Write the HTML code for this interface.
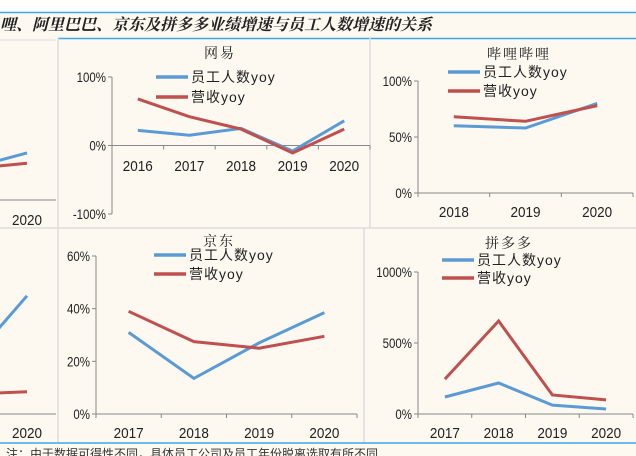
<!DOCTYPE html>
<html><head><meta charset="utf-8"><style>
html,body{margin:0;padding:0;background:#fdf9f1;}
svg{display:block;}
text{font-family:"Liberation Sans","Noto Sans CJK SC",sans-serif;}
</style></head><body>
<svg id="c" width="636" height="456" viewBox="0 0 636 456" xmlns="http://www.w3.org/2000/svg">
<rect x="0" y="0" width="636" height="12" fill="#ffffff"/>
<line x1="0" y1="12.5" x2="636" y2="12.5" stroke="#3aa8e8" stroke-width="1.5"/>
<text x="0" y="30" font-size="16" font-weight="bold" font-style="italic" fill="#222" style="font-family:'Noto Serif CJK SC','Noto Sans CJK SC',serif">哩、阿里巴巴、京东及拼多多业绩增速与员工人数增速的关系</text>
<line x1="58" y1="38.5" x2="636" y2="38.5" stroke="#3aa8e8" stroke-width="1.5"/>
<line x1="0" y1="40" x2="56" y2="40" stroke="#ddd" stroke-width="1"/>
<line x1="58" y1="38" x2="58" y2="443" stroke="#ddd" stroke-width="1.5"/>
<line x1="370" y1="38" x2="370" y2="228" stroke="#ddd" stroke-width="1.5"/>
<line x1="364" y1="228" x2="364" y2="443" stroke="#ddd" stroke-width="1.5"/>
<line x1="0" y1="228" x2="636" y2="228" stroke="#ddd" stroke-width="1.5"/>
<line x1="0" y1="443" x2="636" y2="443" stroke="#3aa8e8" stroke-width="1.5"/>
<text x="6" y="458" font-size="12" fill="#333">注：由于数据可得性不同，具体员工公司及员工年份脱离选取有所不同</text>
<g id="g"></g>
</svg>
<script>
const BLUE="#5b9bd5", RED="#c0504d";
// 网易
const neteaseYears=["2016","2017","2018","2019","2020"];
const neteaseStaff=[22,15,25,-8,36];
const neteaseRevenue=[68,42,24,-11,24];
const neteaseTicks=[100,0,-100];
// 哔哩哔哩
const biliYears=["2018","2019","2020"];
const biliStaff=[60,58,80];
const biliRevenue=[68,64,78];
const biliTicks=[100,50,0];
// 京东
const jdYears=["2017","2018","2019","2020"];
const jdStaff=[31,13.5,27,38.5];
const jdRevenue=[39,27.5,25,29.5];
const jdTicks=[60,40,20,0];
// 拼多多
const pddYears=["2017","2018","2019","2020"];
const pddStaff=[120,218,63,35];
const pddRevenue=[246,655,134,99];
const pddTicks=[1000,500,0];
// left partial panels (only last point visible)
const partialTopStaff=[-30,-10];
const partialTopRevenue=[-32,-25];
const partialBotStaff=[15,45];
const partialBotRevenue=[-5,-4];

const NS="http://www.w3.org/2000/svg";
const G=document.getElementById('g');
function mk(tag,attrs,parent){const e=document.createElementNS(NS,tag);for(const k in attrs)e.setAttribute(k,attrs[k]);(parent||G).appendChild(e);return e;}

function panel(cfg){
  const {name,title,tx,ty,x0,x1,yTop,yBot,vTop,vBot,years,staff,rev,ticks,axisY,legX,legY1,legY2,zeroV}=cfg;
  const g=mk('g',{});
  
  
  const n=years.length, w=(x1-x0)/n;
  const xs=i=>x0+w*(i+0.5);
  const ys=v=>yTop+(vTop-v)/(vTop-vBot)*(yBot-yTop);
  const t=mk('text',{x:tx,y:ty,'font-size':14,'text-anchor':'middle',fill:'#222','letter-spacing':2,style:"font-family:'Noto Serif CJK SC',serif"},g);
  t.textContent=title;
  
  
  const ya=mk('line',{x1:x0,y1:yTop,x2:x0,y2:yBot,stroke:'#888','stroke-width':1},g);
  
  
  ticks.forEach(v=>{
    const tk=mk('line',{x1:x0-4,y1:ys(v),x2:x0,y2:ys(v),stroke:'#888'},g);
    
    
    const l=mk('text',{x:x0-6,y:ys(v)+5,'font-size':14,'text-anchor':'end',fill:'#222',transform:`translate(${x0-6},0) scale(0.82,1) translate(${-(x0-6)},0)`},g);
    l.textContent=v+'%';
    
    
  });
  const ay=ys(zeroV);
  const xa=mk('line',{x1:x0,y1:ay,x2:x1,y2:ay,stroke:'#888','stroke-width':1},g);
  
  
  for(let i=0;i<=n;i++){
    const tk=mk('line',{x1:x0+w*i,y1:ay,x2:x0+w*i,y2:ay+4,stroke:'#888'},g);
    
    
  }
  years.forEach((yv,i)=>{
    const l=mk('text',{x:xs(i),y:axisY,'font-size':15,'text-anchor':'middle',fill:'#222',transform:`translate(${xs(i)},0) scale(0.9,1) translate(${-xs(i)},0)`},g);
    l.textContent=yv;
    
    
  });
  const pts=a=>a.map((v,i)=>xs(i).toFixed(1)+','+ys(v).toFixed(1)).join(' ');
  const ls=mk('polyline',{points:pts(staff),fill:'none',stroke:BLUE,'stroke-width':3},g);
  
  
  const lr=mk('polyline',{points:pts(rev),fill:'none',stroke:RED,'stroke-width':3},g);
  
  
  [[legY1,BLUE,'员工人数yoy','staff'],[legY2,RED,'营收yoy','revenue']].forEach(([ly,c,txt,k])=>{
    const sw=mk('line',{x1:legX,y1:ly,x2:legX+32,y2:ly,stroke:c,'stroke-width':3.5},g);
    
    
    const lt=mk('text',{x:legX+35,y:ly+5,'font-size':14,fill:'#222','letter-spacing':1},g);
    lt.textContent=txt;
    
    
  });
}

panel({name:'netease',title:'网易',tx:220,ty:58,x0:112,x1:370,yTop:77,yBot:214,vTop:100,vBot:-100,years:neteaseYears,staff:neteaseStaff,rev:neteaseRevenue,ticks:neteaseTicks,axisY:171,legX:156,legY1:77,legY2:97,zeroV:0});
panel({name:'bilibili',title:'哔哩哔哩',tx:519,ty:59,x0:418,x1:633,yTop:81,yBot:193,vTop:100,vBot:0,years:biliYears,staff:biliStaff,rev:biliRevenue,ticks:biliTicks,axisY:217,legX:448,legY1:72,legY2:91,zeroV:0});
panel({name:'jd',title:'京东',tx:219,ty:246,x0:96,x1:357,yTop:256,yBot:414,vTop:60,vBot:0,years:jdYears,staff:jdStaff,rev:jdRevenue,ticks:jdTicks,axisY:438,legX:154,legY1:255,legY2:274,zeroV:0});
panel({name:'pdd',title:'拼多多',tx:509,ty:248,x0:418,x1:633,yTop:272,yBot:414,vTop:1000,vBot:0,years:pddYears,staff:pddStaff,rev:pddRevenue,ticks:pddTicks,axisY:438,legX:442,legY1:260,legY2:278,zeroV:0});

// partial left panels
function partial(name,axisYpos,lbY,staff,rev,ys){
  const g=mk('g',{});
  
  
  const a=mk('line',{x1:0,y1:axisYpos,x2:56,y2:axisYpos,stroke:'#888'},g);
  
  
  const t=mk('text',{x:27,y:lbY,'font-size':15,'text-anchor':'middle',fill:'#222',transform:'translate(27,0) scale(0.9,1) translate(-27,0)'},g);
  t.textContent='2020';
  
  
  const xs=[-24,27];
  const p=a2=>a2.map((v,i)=>xs[i]+','+ys(v).toFixed(1)).join(' ');
  const b=mk('polyline',{points:p(staff),fill:'none',stroke:BLUE,'stroke-width':3},g);
  
  
  const r=mk('polyline',{points:p(rev),fill:'none',stroke:RED,'stroke-width':3},g);
  
  
}
partial('partial-top-panel',200,225,partialTopStaff,partialTopRevenue,v=>146-v*0.69);
partial('partial-bottom-panel',414,438,partialBotStaff,partialBotRevenue,v=>384-v*1.96);
</script>
</body></html>
